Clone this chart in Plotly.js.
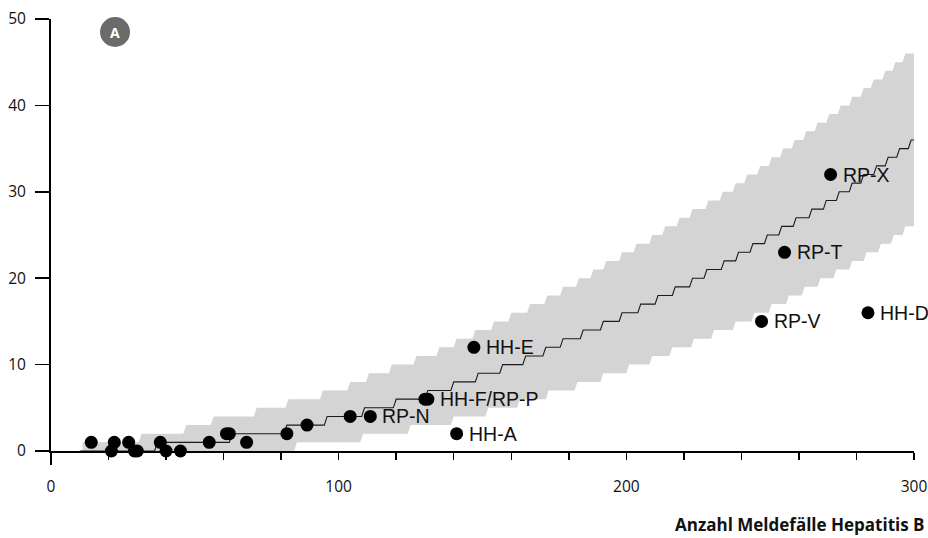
<!DOCTYPE html>
<html><head><meta charset="utf-8">
<script src="https://cdn.plot.ly/plotly-3.0.1.min.js"></script>
<style>html,body{margin:0;padding:0;background:#fff}#chart{width:928px;height:538px}</style>
</head><body><div id="chart"></div>
<script>
// Observed cases: x = Anzahl Meldefälle Hepatitis B, y = observed count
const pointX = [14, 21, 22, 27, 29, 30, 38, 40, 45, 55, 61, 62, 68, 82, 89, 104, 111, 130, 131, 141, 147, 247, 255, 271, 284];
const pointY = [1, 0, 1, 1, 0, 0, 1, 0, 0, 1, 2, 2, 1, 2, 3, 4, 4, 6, 6, 2, 12, 15, 23, 32, 16];
const pointLabels = ['', '', '', '', '', '', '', '', '', '', '', '', '', '', '', '', 'RP-N', '', 'HH-F/RP-P', 'HH-A', 'HH-E', 'RP-V', 'RP-T', 'RP-X', 'HH-D'];

// Expected (median) step function: x at which level i is reached (i = 0..36)
const medianStepX = [10, 37, 63, 82, 96, 109, 120, 131, 140, 148.5, 157, 165, 172, 178, 185, 192, 198.5, 205, 211, 217, 223, 228, 234, 239, 244, 249, 254, 259, 264.5, 269.5, 274, 278.5, 282.5, 287, 291, 295, 299];
// Upper bound: x at which level i+1 is reached (levels 1..46)
const upperStepX = [11, 31.5, 47, 56.5, 71.5, 82.5, 94.5, 104, 110.5, 118.5, 127, 135, 141, 147.5, 154, 160, 166.5, 172.5, 178, 183.5, 188.5, 193, 198.5, 203.5, 209, 213.5, 218.5, 223, 228.5, 233.5, 238, 242, 246.5, 250.5, 254.5, 258.5, 262.5, 266.5, 270.5, 274.5, 278.5, 282.5, 286, 290, 293.5, 297];
const upperBase = 1;
// Lower bound: x at which level i is reached (levels 0..26)
const lowerStepX = [11, 85.5, 108.5, 125, 140, 152, 163, 173, 183, 192, 201, 209, 216, 223.5, 230.5, 238, 244.5, 250.5, 256.5, 262, 267.5, 273, 278.5, 283.5, 288.5, 293, 297];
const lowerBase = 0;
const xEnd = 300;

const xTickVals = [0, 20, 40, 60, 80, 100, 120, 140, 160, 180, 200, 220, 240, 260, 280, 300];
const xTickText = ['0', '', '', '', '', '100', '', '', '', '', '200', '', '', '', '', '300'];
const yTickVals = [0, 10, 20, 30, 40, 50];
const xTitle = 'Anzahl Meldefälle Hepatitis B';
const panelLabel = 'A';

function stairs(starts, base) {
  const xs = [starts[0]], ys = [base];
  for (let i = 1; i < starts.length; i++) {
    xs.push(starts[i] - 1); ys.push(base + i - 1);
    xs.push(starts[i]); ys.push(base + i);
  }
  xs.push(xEnd); ys.push(base + starts.length - 1);
  return {xs, ys};
}

const med = stairs(medianStepX, 0);
const up = stairs(upperStepX, upperBase);
const lo = stairs(lowerStepX, lowerBase);
const bandX = up.xs.concat(lo.xs.slice().reverse());
const bandY = up.ys.concat(lo.ys.slice().reverse());

const traces = [
  {x: bandX, y: bandY, type: 'scatter', mode: 'lines', fill: 'toself', fillcolor: '#d4d4d4',
   line: {width: 0, color: 'rgba(0,0,0,0)'}, hoverinfo: 'skip'},
  {x: med.xs, y: med.ys, type: 'scatter', mode: 'lines', line: {color: '#1a1a1a', width: 1.1}},
  {x: pointX, y: pointY, type: 'scatter', mode: 'markers',
   marker: {size: 13, color: '#000'}, cliponaxis: false}
];

const labelAnnotations = pointLabels.map((t, i) => ({
  x: pointX[i], y: pointY[i], xref: 'x', yref: 'y', text: t, showarrow: false,
  xanchor: 'left', yanchor: 'middle', xshift: 10, yshift: 0,
  font: {family: 'Liberation Sans, Arial, sans-serif', size: 19.5, color: '#111'}
})).filter(a => a.text !== '');

const tickFont = {family: 'Open Sans, sans-serif', size: 15.5, color: '#111'};
const layout = {
  width: 928, height: 538,
  margin: {l: 51, r: 14, t: 19, b: 87},
  showlegend: false,
  paper_bgcolor: '#fff', plot_bgcolor: '#fff',
  xaxis: {range: [0, 300], showline: true, linecolor: '#000', linewidth: 2, ticks: 'outside', ticklen: 7,
          tickwidth: 1.5, tickcolor: '#000', tickvals: xTickVals, ticktext: xTickText, showgrid: false,
          zeroline: false, tickfont: tickFont, ticklabelstandoff: 13, layer: 'below traces', fixedrange: true},
  yaxis: {range: [0, 50], showline: true, linecolor: '#000', linewidth: 2, ticks: 'outside', ticklen: 14,
          tickwidth: 1.5, tickcolor: '#000', tickvals: yTickVals, showgrid: false, zeroline: false,
          tickfont: tickFont, ticklabelstandoff: 6, layer: 'below traces', fixedrange: true},
  shapes: [
    {type: 'line', xref: 'paper', yref: 'paper', x0: 0, x1: 0, y0: 0, y1: -14 / 432, line: {color: '#000', width: 2}},
    {type: 'circle', xref: 'paper', yref: 'paper', xsizemode: 'pixel', ysizemode: 'pixel',
     xanchor: 0.0742, yanchor: 0.9699, x0: -15, x1: 15, y0: -15, y1: 15, fillcolor: '#6b6b6b', line: {width: 0}}
  ],
  annotations: labelAnnotations.concat([
    {xref: 'paper', yref: 'paper', x: 0.0742, y: 0.9699, text: '<b>' + panelLabel + '</b>', showarrow: false,
     xanchor: 'center', yanchor: 'middle', font: {family: 'Open Sans, sans-serif', size: 14, color: '#fff'}},
    {xref: 'paper', yref: 'paper', x: 1.0145, y: -0.169, text: '<b>' + xTitle + '</b>', showarrow: false,
     xanchor: 'right', yanchor: 'middle', font: {family: 'Open Sans, sans-serif', size: 17, color: '#111'}}
  ])
};
Plotly.newPlot('chart', traces, layout, {displayModeBar: false, staticPlot: true});
</script></body></html>
